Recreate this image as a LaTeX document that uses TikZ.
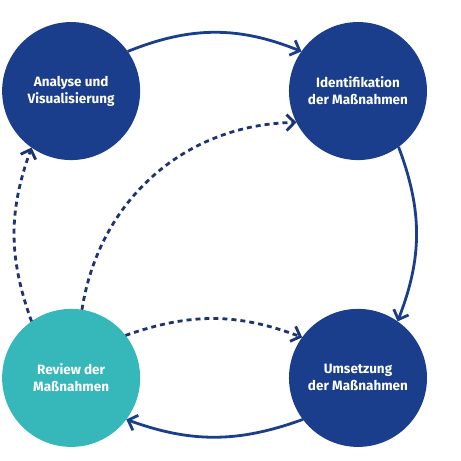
\documentclass[tikz,border=0pt]{standalone}
\usepackage{fontspec}
\setmainfont{Fira Sans}
\usetikzlibrary{arrows.meta, positioning}
\definecolor{phaseblue}{RGB}{26, 62, 140}
\definecolor{reviewteal}{RGB}{54, 184, 187}
\definecolor{dashnavy}{RGB}{30, 52, 112}

\begin{document}
\begin{tikzpicture}[
  node distance=5.23cm,
  phase/.style={circle, fill=phaseblue, minimum size=4.85cm, inner sep=0pt, outer sep=0pt, text=white, font=\fontsize{13.5}{17}\selectfont\bfseries, align=center},
  flow/.style={draw=phaseblue, line width=2.8pt, -{Straight Barb[length=2.8mm, width=5.6mm]}},
  feedback/.style={flow, draw=dashnavy, dash pattern=on 5pt off 4pt}
]
  \useasboundingbox (0, 0) rectangle (16.17, 16.2);

  % Phases of the cycle
  \node[phase] (analyse) at (2.5, 13.0) {Analyse und\\Visualisierung};
  \node[phase, right=of analyse] (ident) {Identifikation\\der Maßnahmen};
  \node[phase, below=of ident] (umsetz) {Umsetzung\\der Maßnahmen};
  \node[phase, fill=reviewteal, below=of analyse] (review) {Review der\\Maßnahmen};

  % Main cycle
  \draw[flow] (analyse.35) to[bend left=22] (ident.145);
  \draw[flow] (ident.-54) to[bend left=21] (umsetz.55);
  \draw[flow] (umsetz.217) to[bend left=20] (review.-37);

  % Feedback from the review
  \draw[feedback] (review.125) to[bend left=20] (analyse.235);
  \draw[feedback] (review.81) to[bend left=40] (ident.207);
  \draw[feedback] (review.38) to[bend left=20] (umsetz.144);
\end{tikzpicture}
\end{document}
